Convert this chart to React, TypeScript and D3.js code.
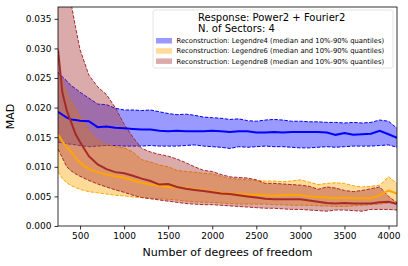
import * as d3 from 'd3';
import { useEffect, useRef } from 'react';

// degrees of freedom sampled
const dofs = [250, 300, 350, 400, 450, 500, 600, 700, 800, 900, 1000, 1100, 1200, 1300, 1400, 1500, 1600, 1700, 1800, 1900, 2000, 2100, 2200, 2300, 2400, 2500, 2600, 2700, 2800, 2900, 3000, 3100, 3200, 3300, 3400, 3500, 3600, 3700, 3800, 3900, 4000, 4096];

const leg4Median = [0.0193, 0.0188, 0.0183, 0.018, 0.0179, 0.0178, 0.0177, 0.0167, 0.0168, 0.0166, 0.0165, 0.0164, 0.0163, 0.0163, 0.0161, 0.016, 0.0161, 0.016, 0.016, 0.016, 0.0161, 0.016, 0.0159, 0.016, 0.016, 0.0158, 0.0158, 0.0159, 0.0158, 0.0159, 0.0159, 0.0159, 0.0159, 0.0158, 0.0154, 0.0157, 0.0154, 0.0155, 0.0156, 0.0161, 0.0155, 0.0149];
const leg4Upper = [0.026, 0.0252, 0.0245, 0.0237, 0.0232, 0.0226, 0.0216, 0.0206, 0.0205, 0.0199, 0.0196, 0.0196, 0.0195, 0.0196, 0.0193, 0.019, 0.0188, 0.0189, 0.0187, 0.0184, 0.0183, 0.0182, 0.018, 0.0181, 0.0178, 0.0177, 0.0179, 0.018, 0.0179, 0.0177, 0.0177, 0.0176, 0.0176, 0.0175, 0.0175, 0.0174, 0.0175, 0.0174, 0.0175, 0.0179, 0.0177, 0.0165];
const leg4Lower = [0.0142, 0.014, 0.0139, 0.0138, 0.0137, 0.0136, 0.0134, 0.0135, 0.0136, 0.0136, 0.0135, 0.0135, 0.0135, 0.0136, 0.0135, 0.0135, 0.0135, 0.0136, 0.0137, 0.0135, 0.0134, 0.0133, 0.0131, 0.0134, 0.0133, 0.0134, 0.0135, 0.0134, 0.0134, 0.0133, 0.0132, 0.0132, 0.0133, 0.0134, 0.0133, 0.0134, 0.0135, 0.0135, 0.0135, 0.0136, 0.0137, 0.0133];

const leg6Median = [0.0155, 0.0143, 0.0133, 0.0125, 0.0115, 0.0107, 0.0096, 0.0091, 0.0087, 0.0084, 0.0082, 0.0077, 0.0073, 0.007, 0.0068, 0.0066, 0.0065, 0.0064, 0.0062, 0.006, 0.0058, 0.0056, 0.0055, 0.0054, 0.0053, 0.0053, 0.0052, 0.0051, 0.0052, 0.0053, 0.0052, 0.005, 0.0049, 0.0048, 0.0047, 0.0048, 0.0047, 0.0047, 0.0047, 0.0052, 0.006, 0.0055];
const leg6Upper = [0.0255, 0.0245, 0.0225, 0.021, 0.0198, 0.0185, 0.016, 0.0145, 0.0137, 0.0134, 0.0132, 0.0125, 0.0112, 0.0108, 0.0103, 0.01, 0.0094, 0.0092, 0.0091, 0.0089, 0.0088, 0.0084, 0.008, 0.0079, 0.0078, 0.0077, 0.0076, 0.0076, 0.0075, 0.0076, 0.0078, 0.0074, 0.007, 0.0072, 0.0073, 0.0072, 0.0068, 0.0066, 0.0067, 0.0069, 0.0083, 0.0072];
const leg6Lower = [0.0092, 0.008, 0.0073, 0.0068, 0.0065, 0.0062, 0.0058, 0.0056, 0.0054, 0.0052, 0.0051, 0.0049, 0.0048, 0.0047, 0.0046, 0.0045, 0.0044, 0.0042, 0.0041, 0.004, 0.004, 0.0039, 0.0038, 0.0037, 0.0037, 0.0037, 0.0037, 0.0036, 0.0036, 0.0035, 0.0035, 0.0035, 0.0034, 0.0034, 0.0033, 0.0033, 0.0034, 0.0035, 0.0036, 0.0037, 0.0039, 0.0041];

const leg8Median = [0.0298, 0.0225, 0.0195, 0.0175, 0.0155, 0.0142, 0.0118, 0.0104, 0.0096, 0.0091, 0.0089, 0.0085, 0.008, 0.0076, 0.007, 0.0071, 0.0066, 0.0063, 0.0061, 0.0059, 0.0057, 0.0055, 0.0054, 0.0052, 0.005, 0.0048, 0.0046, 0.0045, 0.0045, 0.0045, 0.0045, 0.0043, 0.0041, 0.0039, 0.0038, 0.0039, 0.0038, 0.0038, 0.0038, 0.004, 0.0041, 0.0037];
const leg8Upper = [0.048, 0.044, 0.041, 0.0375, 0.0335, 0.0298, 0.0255, 0.0235, 0.0222, 0.02, 0.0172, 0.015, 0.0131, 0.0125, 0.0121, 0.0118, 0.0113, 0.0107, 0.01, 0.0094, 0.0092, 0.0087, 0.0083, 0.0082, 0.0081, 0.0078, 0.0072, 0.0072, 0.0071, 0.007, 0.0069, 0.0067, 0.0062, 0.0066, 0.0064, 0.006, 0.0058, 0.006, 0.0063, 0.0066, 0.005, 0.0039];
const leg8Lower = [0.013, 0.0115, 0.01, 0.0093, 0.0088, 0.0084, 0.0077, 0.0071, 0.0066, 0.0061, 0.0057, 0.0052, 0.0048, 0.0046, 0.0044, 0.0042, 0.004, 0.0038, 0.0037, 0.0036, 0.0036, 0.0035, 0.0034, 0.0033, 0.0032, 0.0031, 0.003, 0.003, 0.0029, 0.0028, 0.0028, 0.0027, 0.0026, 0.0025, 0.0027, 0.0027, 0.0026, 0.0025, 0.0028, 0.0028, 0.0028, 0.0027];

const xTicks = [500, 1000, 1500, 2000, 2500, 3000, 3500, 4000];
const yTicks = [0, 0.005, 0.01, 0.015, 0.02, 0.025, 0.03, 0.035];

const legendTitle = ['Response: Power2 + Fourier2', 'N. of Sectors: 4'];

const series = [
  { name: 'Reconstruction: Legendre4 (median and 10%-90% quantiles)', color: 'blue', fill: 'rgba(0,0,255,0.4)', median: leg4Median, upper: leg4Upper, lower: leg4Lower },
  { name: 'Reconstruction: Legendre6 (median and 10%-90% quantiles)', color: 'orange', fill: 'rgba(255,165,0,0.4)', median: leg6Median, upper: leg6Upper, lower: leg6Lower },
  { name: 'Reconstruction: Legendre8 (median and 10%-90% quantiles)', color: 'brown', fill: 'rgba(165,42,42,0.4)', median: leg8Median, upper: leg8Upper, lower: leg8Lower },
];

const width = 408;
const height = 266;
const margin = { top: 7, right: 11, bottom: 40, left: 58 };
const font = 'DejaVu Sans, sans-serif';

export default function App() {
  const gx = useRef<SVGGElement | null>(null);
  const gy = useRef<SVGGElement | null>(null);

  const w = width - margin.left - margin.right;
  const h = height - margin.top - margin.bottom;

  const x = d3.scaleLinear().domain([250, 4096]).range([0, w]);
  const y = d3.scaleLinear().domain([0, 0.037]).range([h, 0]);

  useEffect(() => {
    if (gx.current) {
      const g = d3.select(gx.current);
      g.call(d3.axisBottom(x).tickValues(xTicks).tickSize(3.5).tickPadding(3).tickFormat(d3.format('d')) as any);
      g.select('.domain').remove();
      g.selectAll('text').attr('font-size', 9).attr('font-family', font).attr('fill', '#000');
      g.selectAll('line').attr('stroke', '#000').attr('stroke-width', 0.8);
    }
    if (gy.current) {
      const g = d3.select(gy.current);
      g.call(d3.axisLeft(y).tickValues(yTicks).tickSize(3.5).tickPadding(3).tickFormat(d3.format('.3f')) as any);
      g.select('.domain').remove();
      g.selectAll('text').attr('font-size', 9).attr('font-family', font).attr('fill', '#000');
      g.selectAll('line').attr('stroke', '#000').attr('stroke-width', 0.8);
    }
  }, []);

  const area = (s: typeof series[0]) =>
    d3.area<number>()
      .x((d) => x(d))
      .y0((_, i) => y(s.lower[i]))
      .y1((_, i) => y(s.upper[i]))(dofs) as string;
  const line = (vals: number[]) =>
    d3.line<number>().x((d) => x(d)).y((_, i) => y(vals[i]))(dofs) as string;

  const lx = 153;
  const ly = 10;

  return (
    <svg width={width} height={height} style={{ position: 'absolute', left: 0, top: 0, background: '#fff' }}>
      <defs>
        <clipPath id="plot-clip">
          <rect x={0} y={0} width={w} height={h} />
        </clipPath>
      </defs>
      <g transform={`translate(${margin.left},${margin.top})`}>
        <g clipPath="url(#plot-clip)">
          {series.map((s) => (
            <g key={s.name}>
              <path d={area(s)} fill={s.fill} stroke="none" />
              <path d={line(s.upper)} fill="none" stroke={s.color} strokeWidth={1} strokeDasharray="3.5,1.5" />
              <path d={line(s.lower)} fill="none" stroke={s.color} strokeWidth={1} strokeDasharray="3.5,1.5" />
            </g>
          ))}
          {series.map((s) => (
            <path key={s.name + 'm'} d={line(s.median)} fill="none" stroke={s.color} strokeWidth={2} />
          ))}
        </g>
        <rect x={0} y={0} width={w} height={h} fill="none" stroke="#000" strokeWidth={0.8} />
        <g ref={gx} transform={`translate(0,${h})`} />
        <g ref={gy} />
        <text x={w / 2} y={h + 30} textAnchor="middle" fontSize={11} fontFamily={font}>Number of degrees of freedom</text>
        <text transform={`translate(${-44},${h / 2}) rotate(-90)`} textAnchor="middle" fontSize={11} fontFamily={font}>MAD</text>
      </g>
      <g transform={`translate(${lx},${ly})`} fontFamily={font}>
        <rect x={0} y={0} width={240} height={58} rx={2} fill="rgba(255,255,255,0.8)" stroke="#dddddd" strokeWidth={0.8} />
        {legendTitle.map((t, i) => (
          <text key={t} x={45} y={11 + i * 11} fontSize={10}>{t}</text>
        ))}
        {series.map((s, i) => (
          <g key={s.name} transform={`translate(0,${30.7 + i * 10.2})`}>
            <rect x={3} y={-2.7} width={16} height={5.5} fill={s.fill} />
            <text x={23.5} y={2.4} fontSize={6.8}>{s.name}</text>
          </g>
        ))}
      </g>
    </svg>
  );
}
